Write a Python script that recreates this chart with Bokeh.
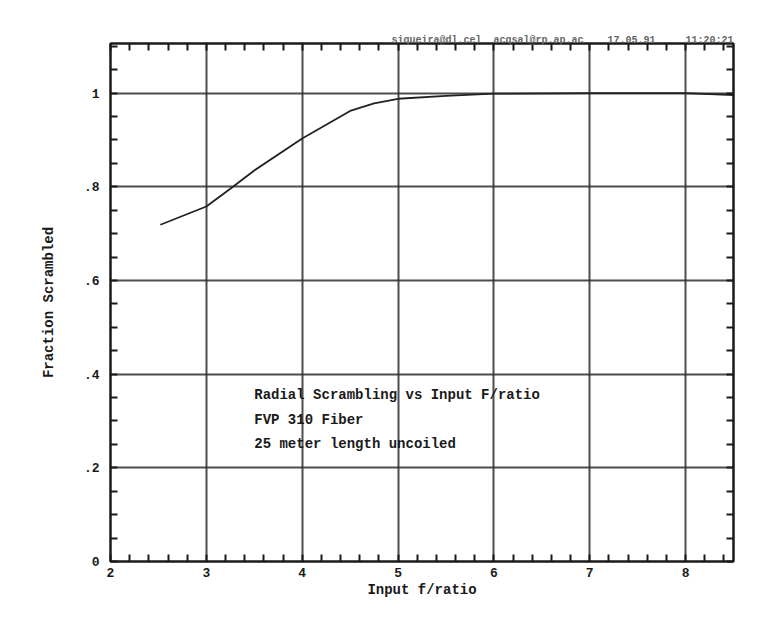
import numpy as np
from bokeh.plotting import figure
from bokeh.models import LinearAxis, FixedTicker, Range1d, Title, Label
from bokeh.embed import file_html
from bokeh.resources import INLINE

# Data
f_ratio = [2.52, 3.0, 3.25, 3.5, 4.0, 4.5, 4.75, 5.0, 5.5, 6.0, 7.0, 8.0, 8.5]
fraction = [0.719, 0.758, 0.796, 0.835, 0.903, 0.962, 0.978, 0.988, 0.994, 0.999, 1.0, 1.0, 0.996]

x_ticks = [2, 3, 4, 5, 6, 7, 8]
y_ticks = [0.0, 0.2, 0.4, 0.6, 0.8, 1.0]
y_tick_labels = {0.0: "0", 0.2: ".2", 0.4: ".4", 0.6: ".6", 0.8: ".8", 1.0: "1"}

notes = ["Radial Scrambling vs Input F/ratio", "FVP 310 Fiber", "25 meter length uncoiled"]
header_parts = ["siqueira@dl.cel", "acqsal@rp.ap.ac", "17.05.91", "11:20:21"]
header_gaps = [2, 4, 5]

FONT = "Liberation Mono"
INK = "#1a1a1a"
NBSP = "\u00a0"
header = header_parts[0]
for gap, part in zip(header_gaps, header_parts[1:]):
    header += NBSP * gap + part

p = figure(width=753, height=624, output_backend="svg", toolbar_location=None,
           x_range=Range1d(2, 8.5), y_range=Range1d(0, 1.106),
           min_border_left=110, min_border_right=20, min_border_top=43, min_border_bottom=63,
           background_fill_color="white", border_fill_color="white")
p.outline_line_color = INK
p.outline_line_width = 2

x_minor = list(np.round(np.arange(2.0, 8.51, 0.2), 2))
y_minor = list(np.round(np.arange(0.0, 1.11, 0.05), 2))

def style_axis(ax, labels=True):
    ax.axis_line_color = INK
    ax.axis_line_width = 2
    ax.major_tick_in = 0
    ax.major_tick_out = 0
    ax.minor_tick_in = 7
    ax.minor_tick_out = 0
    ax.minor_tick_line_color = INK
    ax.minor_tick_line_width = 2
    ax.major_label_text_font = FONT
    ax.major_label_text_font_style = "bold"
    ax.major_label_text_font_size = "13px"
    ax.major_label_text_color = INK if labels else None
    ax.axis_label_text_font = FONT
    ax.axis_label_text_font_style = "bold"
    ax.axis_label_text_font_size = "14px"
    ax.axis_label_text_color = INK

xt = FixedTicker(ticks=x_ticks, minor_ticks=x_minor)
yt = FixedTicker(ticks=y_ticks, minor_ticks=y_minor)

p.xaxis.ticker = xt
p.yaxis.ticker = yt
p.yaxis.major_label_overrides = y_tick_labels
p.xaxis.axis_label = "Input f/ratio"
p.yaxis.axis_label = "Fraction Scrambled"
style_axis(p.xaxis[0])
style_axis(p.yaxis[0])
p.xaxis.major_label_standoff = 6
p.yaxis.major_label_standoff = 11
p.xaxis.axis_label_standoff = 2
p.yaxis.axis_label_standoff = 24

top = LinearAxis(ticker=FixedTicker(ticks=x_ticks, minor_ticks=x_minor))
style_axis(top, labels=False)
top.major_label_text_font_size = "1px"
top.major_label_standoff = 0
p.add_layout(top, "above")
right = LinearAxis(ticker=FixedTicker(ticks=y_ticks, minor_ticks=y_minor))
style_axis(right, labels=False)
right.major_label_text_font_size = "1px"
right.major_label_standoff = 0
p.add_layout(right, "right")

p.xgrid.ticker = xt
p.ygrid.ticker = yt
p.grid.grid_line_color = "#2e2e2e"
p.grid.grid_line_width = 2
p.grid.grid_line_alpha = 0.85

p.line(f_ratio, fraction, line_color="#222222", line_width=1.8)

for i, t in enumerate(notes):
    p.add_layout(Label(x=3.5, y=0.355 - i * 0.052, text=t, text_font=FONT,
                       text_font_style="bold", text_font_size="14px",
                       text_color=INK, text_baseline="middle"))

p.add_layout(Title(text=header, align="right", text_font=FONT, text_font_size="10px",
                   text_font_style="bold", text_color="#666666", standoff=-4), "above")

open("out.html", "w").write(file_html(p, INLINE))
